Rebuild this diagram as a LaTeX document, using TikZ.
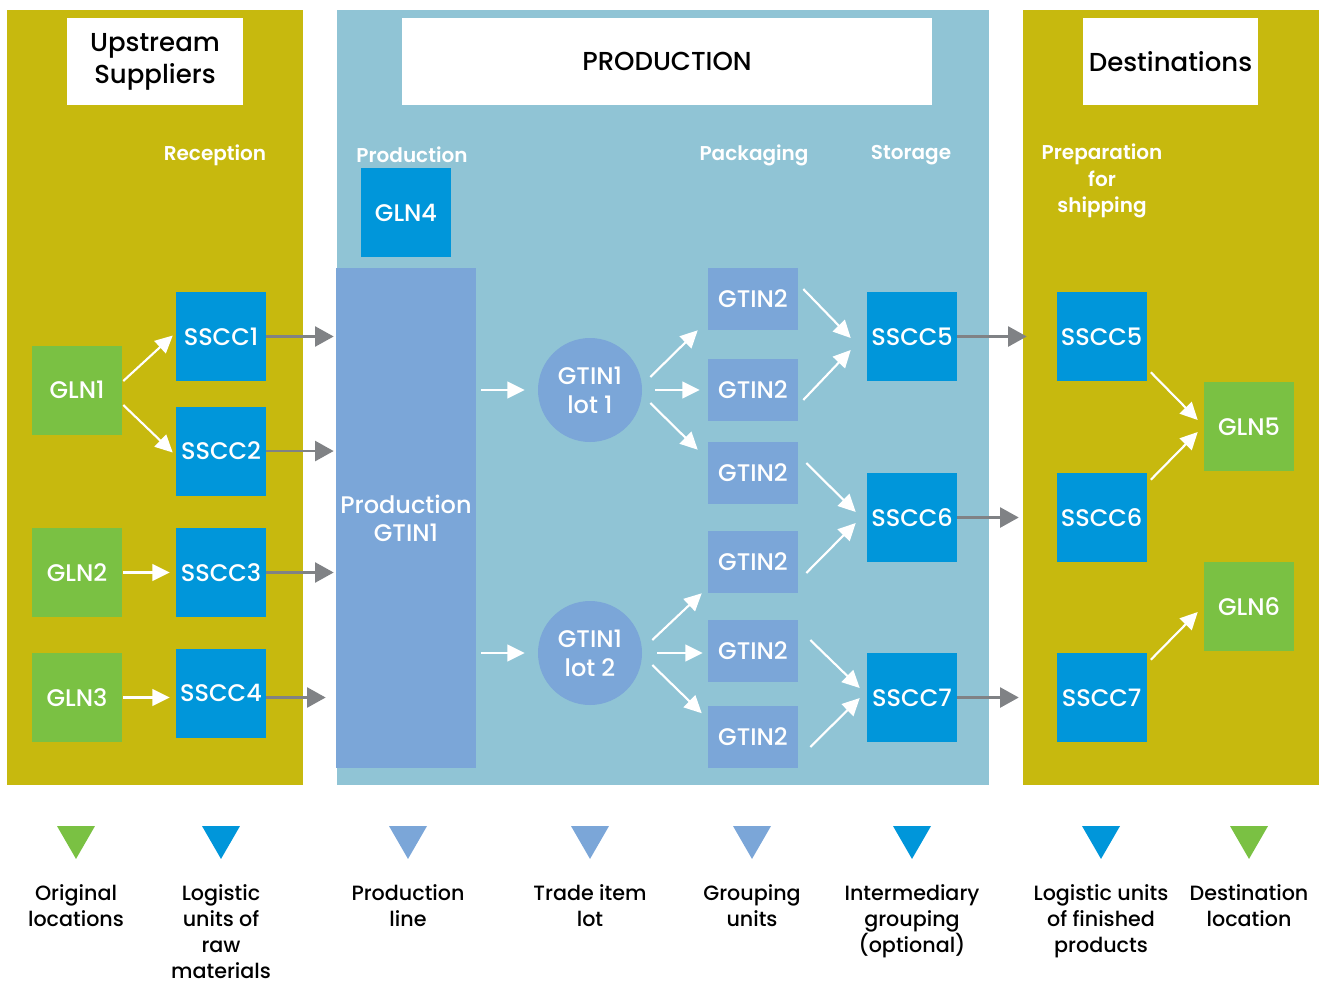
\documentclass[tikz,border=0pt]{standalone}
\usepackage{fontspec}
\setmainfont{Poppins}[BoldFont={Poppins SemiBold}]
\newfontfamily\mediumfont{Poppins Medium}
\usetikzlibrary{shapes.geometric, arrows.meta, positioning}
\definecolor{panelolive}{HTML}{C7B90E}
\definecolor{panelblue}{HTML}{90C4D5}
\definecolor{ssccblue}{HTML}{0096DA}
\definecolor{prodblue}{HTML}{7BA6D8}
\definecolor{glngreen}{HTML}{7AC143}
\definecolor{arrowgray}{HTML}{808285}

\begin{document}
\begin{tikzpicture}[x=0.75pt, y=-0.75pt,
  panel/.style={rectangle, inner sep=0pt, minimum height=581.25pt},
  titlebox/.style={rectangle, fill=white, minimum height=65.25pt, align=center, font=\mediumfont\fontsize{19.5}{24}\selectfont},
  stage/.style={text=white, align=center, font=\bfseries\fontsize{15}{19.9}\selectfont},
  idbox/.style={rectangle, minimum width=67.5pt, minimum height=66.75pt, inner sep=0pt, text=white, font=\mediumfont\fontsize{18}{21}\selectfont},
  location/.style={idbox, fill=glngreen},
  logistic/.style={idbox, fill=ssccblue},
  grouping/.style={idbox, fill=prodblue, minimum height=46.5pt},
  lot/.style={circle, fill=prodblue, minimum size=78pt, inner sep=0pt, text=white, align=center, font=\mediumfont\fontsize{18}{21.75}\selectfont},
  legtri/.style={regular polygon, regular polygon sides=3, shape border rotate=180, minimum size=32.9pt, inner sep=0pt},
  legtext/.style={align=center, inner sep=0pt, font=\mediumfont\fontsize{15.5}{19.5}\selectfont},
  whitearrow/.style={white, line width=1.6pt, -{Triangle[length=13pt, width=12.5pt]}},
  grayarrow/.style={arrowgray, line width=1.9pt, -{Triangle[length=14pt, width=15pt]}}]

  \useasboundingbox (0,0) rectangle (1319,985);

  % Panels
  \node (supp) [panel, fill=panelolive, minimum width=222pt] at (155,397.5) {};
  \node (prod) [panel, fill=panelblue, minimum width=489pt] at (663,397.5) {};
  \node (dest) [panel, fill=panelolive, minimum width=222pt] at (1171,397.5) {};
  \node (supptitle) [titlebox, minimum width=132pt] at (155,61.5) {Upstream\\Suppliers};
  \node (prodtitle) [titlebox, minimum width=397.5pt] at (667,61.5) {PRODUCTION};
  \node (desttitle) [titlebox, minimum width=131.25pt] at (1170.5,61.5) {Destinations};

  % Stages
  \node (reception) [stage] at (215,155) {Reception};
  \node (production) [stage] at (412,155) {Production};
  \node (packaging) [stage] at (754,155) {Packaging};
  \node (storage) [stage] at (911,155) {Storage};
  \node (preparation) [stage] at (1102,181) {Preparation\\for\\shipping};

  % Nodes
  \node (gln1) [location] at (77,390) {GLN1};
  \node (gln2) [location] at (77,572.5) {GLN2};
  \node (gln3) [location] at (77,697.5) {GLN3};
  \node (sscc1) [logistic] at (221,336.5) {SSCC1};
  \node (sscc2) [logistic, below=18.75pt of sscc1] {SSCC2};
  \node (sscc3) [logistic] at (221,572.5) {SSCC3};
  \node (sscc4) [logistic, below=23.25pt of sscc3] {SSCC4};

  \node (prodline) [rectangle, fill=prodblue, minimum width=103.5pt, minimum height=375pt, text=white, align=center, font=\mediumfont\fontsize{18}{21}\selectfont] at (406,518) {Production\\GTIN1};
  \node (gln4) [logistic, above=7.5pt of prodline] {GLN4};
  \node (lot1) [lot] at (590,390) {GTIN1\\lot 1};
  \node (lot2) [lot] at (590,653) {GTIN1\\lot 2};
  \node (gtin1) [grouping] at (753,299) {GTIN2};
  \node (gtin2) [grouping] at (753,390) {GTIN2};
  \node (gtin3) [grouping] at (753,473) {GTIN2};
  \node (gtin4) [grouping] at (753,562) {GTIN2};
  \node (gtin5) [grouping] at (753,651) {GTIN2};
  \node (gtin6) [grouping] at (753,736.5) {GTIN2};
  \node (sscc5) [logistic] at (912,336.5) {SSCC5};
  \node (sscc6) [logistic] at (912,517.5) {SSCC6};
  \node (sscc7) [logistic] at (912,697.5) {SSCC7};

  \node (ship5) [logistic, right=74.25pt of sscc5] {SSCC5};
  \node (ship6) [logistic, right=74.25pt of sscc6] {SSCC6};
  \node (ship7) [logistic, right=74.25pt of sscc7] {SSCC7};
  \node (gln5) [location] at (1249,426.5) {GLN5};
  \node (gln6) [location] at (1249,606.5) {GLN6};

  % Arrows
  \draw [whitearrow] ([shift={(1,-9)}]gln1.east) -- ([shift={(-3,-1)}]sscc1.west);
  \draw [whitearrow] ([shift={(1,15)}]gln1.east) -- ([shift={(-3,1.5)}]sscc2.west);
  \draw [whitearrow, shorten <=0.75pt, shorten >=4.5pt] (gln2.east) -- (sscc3.west);
  \draw [whitearrow, shorten <=0.75pt, shorten >=4.5pt] (gln3.east) -- (gln3.east -| sscc4.west);

  \draw [grayarrow, shorten >=1.5pt] (sscc1.east) -- (sscc1.east -| prodline.west);
  \draw [grayarrow, shorten >=1.5pt] (sscc2.east) -- (sscc2.east -| prodline.west);
  \draw [grayarrow, shorten >=1.5pt] (sscc3.east) -- (sscc3.east -| prodline.west);
  \draw [grayarrow, shorten >=7.5pt] (gln3.east -| sscc4.east) -- (gln3.east -| prodline.west);

  \draw [whitearrow, shorten <=3.75pt, shorten >=9.75pt] (lot1.west -| prodline.east) -- (lot1.west);
  \draw [whitearrow, shorten <=3.75pt, shorten >=9.75pt] (lot2.west -| prodline.east) -- (lot2.west);

  \draw [whitearrow] ([shift={(8,-13)}]lot1.east) -- ([shift={(-10,0)}]gtin1.south west);
  \draw [whitearrow] ([shift={(13,0)}]lot1.east) -- ([shift={(-8,0)}]gtin2.west);
  \draw [whitearrow] ([shift={(8,13)}]lot1.east) -- ([shift={(-10,8)}]gtin3.north west);
  \draw [whitearrow] ([shift={(10,-13)}]lot2.east) -- ([shift={(-6,0)}]gtin4.south west);
  \draw [whitearrow] ([shift={(15,0)}]lot2.east) -- ([shift={(-5,2)}]gtin5.west);
  \draw [whitearrow] ([shift={(10,12)}]lot2.east) -- ([shift={(-6,8)}]gtin6.north west);

  \draw [whitearrow] ([shift={(5,-10)}]gtin1.east) -- ([shift={(-16,1.5)}]sscc5.west);
  \draw [whitearrow] ([shift={(5,10)}]gtin2.east) -- ([shift={(-16,13.5)}]sscc5.west);
  \draw [whitearrow] ([shift={(8,-10)}]gtin3.east) -- ([shift={(-11,-5.5)}]sscc6.west);
  \draw [whitearrow] ([shift={(8,11)}]gtin4.east) -- ([shift={(-11,5.5)}]sscc6.west);
  \draw [whitearrow] ([shift={(12,-11)}]gtin5.east) -- ([shift={(-7,-9.5)}]sscc7.west);
  \draw [whitearrow] ([shift={(12,10.5)}]gtin6.east) -- ([shift={(-7,0.5)}]sscc7.west);

  \draw [grayarrow, shorten >=-3pt] (sscc5.east) -- (sscc5.east -| dest.west);
  \draw [grayarrow, shorten >=3pt] (sscc6.east) -- (sscc6.east -| dest.west);
  \draw [grayarrow, shorten >=3pt] (sscc7.east) -- (sscc7.east -| dest.west);

  \draw [whitearrow] ([shift={(4,-9)}]ship5.south east) -- ([shift={(-6,-6.5)}]gln5.west);
  \draw [whitearrow] ([shift={(4,7)}]ship6.north east) -- ([shift={(-6,5.5)}]gln5.west);
  \draw [whitearrow] ([shift={(4,7)}]ship7.north east) -- ([shift={(-6,5.5)}]gln6.west);

  % Legend
  \foreach \x/\c/\t [count=\i] in {76/glngreen/{Original\\locations},
      221/ssccblue/{Logistic\\units of\\raw\\materials},
      408/prodblue/{Production\\line},
      590/prodblue/{Trade item\\lot},
      752/prodblue/{Grouping\\units},
      912/ssccblue/{Intermediary\\grouping\\(optional)},
      1101/ssccblue/{Logistic units\\of finished\\products},
      1249/glngreen/{Destination\\location}}
  {
    \node (tri\i) [legtri, fill=\c] at (\x,837) {};
    \node (leg\i) [legtext, below=18.5pt of tri\i] {\t};
  }

\end{tikzpicture}
\end{document}
